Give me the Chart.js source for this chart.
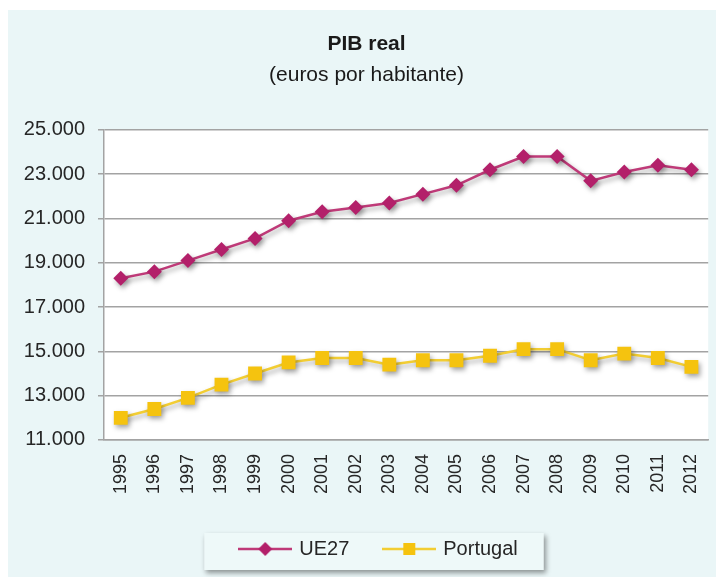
<!DOCTYPE html>
<html>
<head>
<meta charset="utf-8">
<title>PIB real</title>
<script src="https://cdn.jsdelivr.net/npm/chart.js@4/dist/chart.umd.min.js"></script>
<style>
  html, body { margin: 0; padding: 0; background: #fff; }
  #wrap { width: 718px; height: 577px; position: relative; }
</style>
</head>
<body>
<div id="wrap"><canvas id="pibChart"></canvas></div>
<script>
// Data
const years = ['1995', '1996', '1997', '1998', '1999', '2000', '2001', '2002', '2003',
  '2004', '2005', '2006', '2007', '2008', '2009', '2010', '2011', '2012'];
const ue27 = [18300, 18600, 19100, 19600, 20100, 20900, 21300, 21500, 21700,
  22100, 22500, 23200, 23800, 23800, 22700, 23100, 23400, 23200];
const portugal = [12000, 12400, 12900, 13500, 14000, 14500, 14700, 14700, 14400,
  14600, 14600, 14800, 15100, 15100, 14600, 14900, 14700, 14300];
const seriesNames = ['UE27', 'Portugal'];
const yMin = 11000;
const yMax = 25000;
const yStep = 2000;

const FONT = "'Liberation Sans', Arial, sans-serif";
const TEXT = '#262626';
const GRID = '#a3a3a3';
const UE_COLOR = '#b3206a';
const UE_LINE = '#bf3a78';
const PT_COLOR = '#f5c30f';
const PT_LINE = '#f2cd33';

// small canvases used as legend symbols (line with marker)
function legendIcon(lineColor, fill, shape) {
  const c = document.createElement('canvas');
  c.width = 54; c.height = 16;
  const g = c.getContext('2d');
  g.strokeStyle = lineColor; g.lineWidth = 2.5;
  g.beginPath(); g.moveTo(0, 8); g.lineTo(54, 8); g.stroke();
  g.fillStyle = fill;
  if (shape === 'diamond') {
    g.beginPath(); g.moveTo(27, 1); g.lineTo(34, 8); g.lineTo(27, 15); g.lineTo(20, 8); g.closePath(); g.fill();
  } else {
    g.fillRect(21, 2, 12, 12);
  }
  return c;
}
const icons = [legendIcon(UE_LINE, UE_COLOR, 'diamond'), legendIcon(PT_LINE, PT_COLOR, 'square')];

function fmtThousands(v) {
  return String(v).replace(/\B(?=(\d{3})+(?!\d))/g, '.');
}

const titleShift = 5;
const legendShift = 18;

const decor = {
  id: 'decor',
  afterLayout(chart) {
    // nudge centred blocks to where the reference has them
    chart.boxes.forEach(b => {
      if (b === chart.legend) { b.left += legendShift; b.right += legendShift; }
      else if (b.position === 'top' && b.options && b.options.text) { b.left += titleShift; b.right += titleShift; }
    });
  },
  beforeDraw(chart) {
    const ctx = chart.ctx;
    const a = chart.chartArea;
    ctx.save();
    ctx.fillStyle = '#ffffff';
    ctx.fillRect(0, 0, chart.width, chart.height);
    ctx.fillStyle = '#eaf6f7';
    ctx.fillRect(8, 10, chart.width - 10, chart.height - 10);
    ctx.fillStyle = '#ffffff';
    ctx.fillRect(a.left, a.top, a.right - a.left, a.bottom - a.top);
    // legend frame
    const hb = chart.legend && chart.legend.legendHitBoxes;
    if (hb && hb.length) {
      const first = hb[0], last = hb[hb.length - 1];
      const x0 = first.left - 37, x1 = last.left + last.width + 26;
      const y0 = first.top - 6, y1 = first.top + 31;
      ctx.shadowColor = 'rgba(0,0,0,0.4)';
      ctx.shadowBlur = 5;
      ctx.shadowOffsetX = 2;
      ctx.shadowOffsetY = 3;
      ctx.fillStyle = '#eef9f9';
      ctx.fillRect(x0, y0, x1 - x0, y1 - y0);
    }
    ctx.restore();
  },
  beforeDatasetsDraw(chart) {
    const ctx = chart.ctx;
    ctx.save();
    ctx.shadowColor = 'rgba(0,0,0,0.35)';
    ctx.shadowBlur = 5;
    ctx.shadowOffsetX = 2;
    ctx.shadowOffsetY = 3;
  },
  afterDatasetsDraw(chart) {
    chart.ctx.restore();
  }
};

new Chart(document.getElementById('pibChart'), {
  type: 'line',
  data: {
    labels: years,
    datasets: [
      {
        label: seriesNames[0], data: ue27,
        borderColor: UE_LINE, borderWidth: 2.5, backgroundColor: UE_COLOR,
        pointStyle: 'rectRot', pointRadius: 7.5, pointBackgroundColor: UE_COLOR, pointBorderWidth: 0,
        tension: 0, fill: false
      },
      {
        label: seriesNames[1], data: portugal,
        borderColor: PT_LINE, borderWidth: 2.5, backgroundColor: PT_COLOR,
        pointStyle: 'rect', pointRadius: 9.8, pointBackgroundColor: PT_COLOR, pointBorderWidth: 0,
        tension: 0, fill: false
      }
    ]
  },
  options: {
    responsive: true,
    maintainAspectRatio: false,
    devicePixelRatio: 1,
    animation: false,
    layout: { padding: { left: 8, right: 3, top: 10, bottom: 8 } },
    scales: {
      x: {
        offset: true,
        grid: { display: false, drawTicks: false },
        border: { display: true, color: GRID, width: 1.5 },
        ticks: {
          color: TEXT, font: { family: FONT, size: 18 },
          minRotation: 90, maxRotation: 90, autoSkip: false, padding: 14
        },
        afterFit: s => { s.paddingLeft = 0; s.paddingRight = 0; s.height = s.height - 5; }
      },
      y: {
        min: yMin, max: yMax,
        grid: { color: GRID, lineWidth: 1.5, tickLength: 6 },
        border: { display: true, color: GRID, width: 1.5 },
        ticks: {
          stepSize: yStep, color: TEXT, padding: 13,
          font: { family: FONT, size: 20 },
          callback: v => fmtThousands(v)
        },
        afterFit: s => { s.width = 96; }
      }
    },
    plugins: {
      title: {
        display: true, text: 'PIB real', color: '#1a1a1a',
        font: { family: FONT, size: 21, weight: 'bold' },
        padding: { top: 22, bottom: 4 }
      },
      subtitle: {
        display: true, text: '(euros por habitante)', color: '#1a1a1a',
        font: { family: FONT, size: 21 },
        padding: { top: 1, bottom: 42.5 }
      },
      legend: {
        position: 'bottom',
        labels: {
          usePointStyle: true, pointStyleWidth: 48, padding: 36,
          color: TEXT, font: { family: FONT, size: 20 },
          generateLabels: chart => chart.data.datasets.map((ds, i) => ({
            text: ds.label, fontColor: TEXT, pointStyle: icons[i],
            fillStyle: 'transparent', strokeStyle: 'transparent', lineWidth: 0,
            hidden: false, datasetIndex: i
          }))
        }
      },
      tooltip: { enabled: false }
    }
  },
  plugins: [decor]
});
</script>
</body>
</html>
